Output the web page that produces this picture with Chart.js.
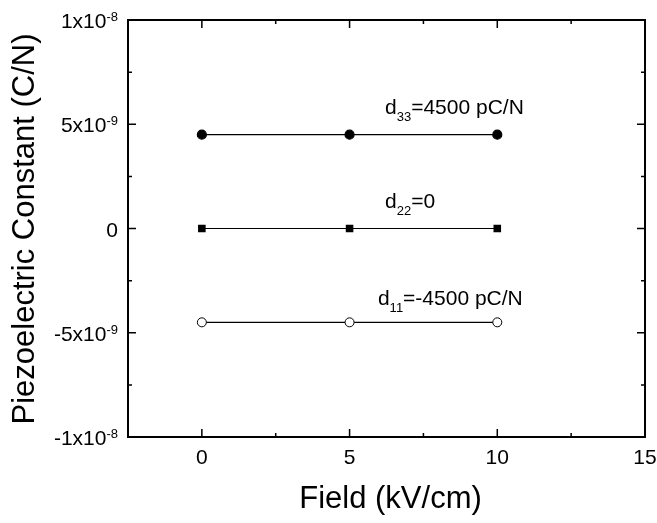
<!DOCTYPE html>
<html>
<head>
<meta charset="utf-8">
<script src="https://cdn.jsdelivr.net/npm/chart.js@4"></script>
<style>
  html, body { margin: 0; padding: 0; background: #fff; }
  #wrap { width: 657px; height: 523px; position: relative; }
</style>
</head>
<body>
<div id="wrap"><canvas id="chart" width="657" height="523"></canvas></div>
<script>
// datos
const fieldValues = [0, 5, 10];
const d33Values = [4.5e-9, 4.5e-9, 4.5e-9];
const d22Values = [0, 0, 0];
const d11Values = [-4.5e-9, -4.5e-9, -4.5e-9];

const xMajorTicks = [0, 5, 10, 15];
const xMinorTicks = [-2.5, 2.5, 7.5, 12.5];
const yMajorTicks = [-1e-8, -5e-9, 0, 5e-9, 1e-8];
const yMinorTicks = [-7.5e-9, -2.5e-9, 2.5e-9, 7.5e-9];
// etiquetas del eje y: mantisa y exponente
const yTickLabels = [['-1x10', '-8'], ['-5x10', '-9'], ['0', ''], ['5x10', '-9'], ['1x10', '-8']];

// textos de las series: base, subíndice, resto
const seriesLabels = [
    ['d', '33', '=4500 pC/N'],
    ['d', '22', '=0'],
    ['d', '11', '=-4500 pC/N']
];
// anclaje de cada texto (esquina izquierda, línea base) en unidades de los ejes
const labelAnchors = [[6.2, 5.47e-9], [6.2, 1.0e-9], [5.96, -3.69e-9]];

const FONT = '"Liberation Sans", Arial, Helvetica, sans-serif';

function toPoints(ys) {
    return fieldValues.map((x, i) => ({ x: x, y: ys[i] }));
}

// dibuja marco, marcas, etiquetas y títulos
const framePlugin = {
    id: 'frame',
    afterDraw(chart) {
        const ctx = chart.ctx;
        const a = chart.chartArea;
        const sx = chart.scales.x;
        const sy = chart.scales.y;
        ctx.save();
        ctx.strokeStyle = '#000';
        ctx.fillStyle = '#000';

        // marco
        ctx.lineWidth = 2;
        ctx.strokeRect(a.left, a.top, a.right - a.left, a.bottom - a.top);

        // marcas hacia adentro
        ctx.lineWidth = 1.5;
        ctx.beginPath();
        function xTick(v, len) {
            const px = sx.getPixelForValue(v);
            ctx.moveTo(px, a.bottom); ctx.lineTo(px, a.bottom - len);
            ctx.moveTo(px, a.top); ctx.lineTo(px, a.top + len);
        }
        function yTick(v, len) {
            const py = sy.getPixelForValue(v);
            ctx.moveTo(a.left, py); ctx.lineTo(a.left + len, py);
            ctx.moveTo(a.right, py); ctx.lineTo(a.right - len, py);
        }
        xMajorTicks.forEach(v => xTick(v, 8));
        xMinorTicks.forEach(v => xTick(v, 4));
        yMajorTicks.forEach(v => yTick(v, 8));
        yMinorTicks.forEach(v => yTick(v, 4));
        ctx.stroke();

        // etiquetas del eje x
        ctx.font = '21px ' + FONT;
        ctx.textAlign = 'center';
        ctx.textBaseline = 'alphabetic';
        xMajorTicks.forEach(v => {
            ctx.fillText(String(v), sx.getPixelForValue(v), a.bottom + 27);
        });

        // etiquetas del eje y con exponente
        yMajorTicks.forEach((v, i) => {
            const base = yTickLabels[i][0];
            const exp = yTickLabels[i][1];
            const py = sy.getPixelForValue(v);
            const right = a.left - 10;
            ctx.font = '13px ' + FONT;
            const ew = exp ? ctx.measureText(exp).width : 0;
            ctx.textAlign = 'right';
            ctx.fillText(exp, right, py + 1);
            ctx.font = '21px ' + FONT;
            ctx.fillText(base, right - ew, py + 8);
        });

        // textos de las series con subíndice
        seriesLabels.forEach((l, i) => {
            const x0 = sx.getPixelForValue(labelAnchors[i][0]);
            const py = sy.getPixelForValue(labelAnchors[i][1]);
            ctx.textAlign = 'left';
            ctx.font = '21px ' + FONT;
            const w1 = ctx.measureText(l[0]).width;
            ctx.fillText(l[0], x0, py);
            ctx.font = '13px ' + FONT;
            const w2 = ctx.measureText(l[1]).width;
            ctx.fillText(l[1], x0 + w1, py + 7);
            ctx.font = '21px ' + FONT;
            ctx.fillText(l[2], x0 + w1 + w2, py);
        });

        // títulos de los ejes
        ctx.font = '31px ' + FONT;
        ctx.textAlign = 'center';
        ctx.fillText('Field (kV/cm)', (a.left + a.right) / 2 + 4, a.bottom + 71);
        ctx.translate(34, 229);
        ctx.rotate(-Math.PI / 2);
        ctx.fillText('Piezoelectric Constant (C/N)', 0, 0);
        ctx.restore();
    }
};

const ctx = document.getElementById('chart').getContext('2d');
const chart = new Chart(ctx, {
    type: 'scatter',
    data: {
        datasets: [{
            label: 'd33',
            data: toPoints(d33Values),
            showLine: true,
            borderColor: '#000',
            borderWidth: 1.2,
            pointStyle: 'circle',
            pointRadius: 4.5,
            pointBackgroundColor: '#000',
            pointBorderColor: '#000'
        }, {
            label: 'd22',
            data: toPoints(d22Values),
            showLine: true,
            borderColor: '#000',
            borderWidth: 1.2,
            pointStyle: 'rect',
            pointRadius: 4.5,
            pointBackgroundColor: '#000',
            pointBorderColor: '#000'
        }, {
            label: 'd11',
            data: toPoints(d11Values),
            showLine: true,
            borderColor: '#000',
            borderWidth: 1.2,
            pointStyle: 'circle',
            pointRadius: 4.5,
            pointBackgroundColor: '#fff',
            pointBorderColor: '#000',
            pointBorderWidth: 1
        }]
    },
    options: {
        responsive: false,
        animation: false,
        layout: { padding: { left: 128, right: 12, top: 20, bottom: 86 } },
        plugins: {
            legend: { display: false },
            tooltip: { enabled: false }
        },
        scales: {
            x: { type: 'linear', min: -2.5, max: 15, display: false },
            y: { type: 'linear', min: -1e-8, max: 1e-8, display: false }
        }
    },
    plugins: [framePlugin]
});
</script>
</body>
</html>
